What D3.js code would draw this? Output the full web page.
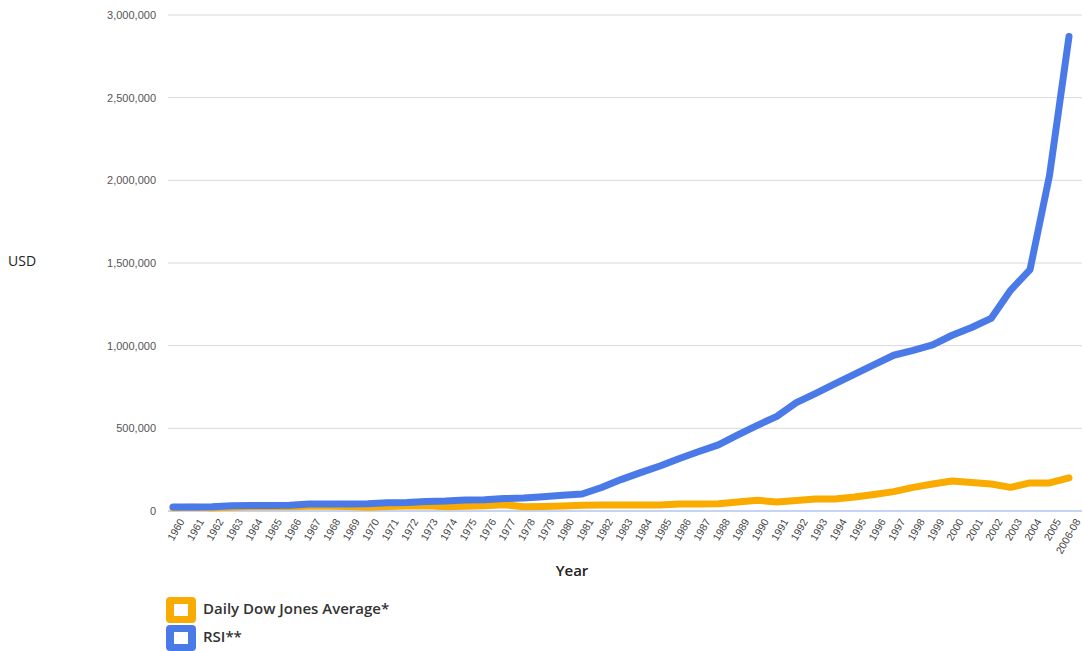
<!DOCTYPE html>
<html>
<head>
<meta charset="utf-8">
<script src="https://cdn.jsdelivr.net/npm/d3@7"></script>
<style>
  html, body { margin: 0; padding: 0; background: #fff; }
  svg { display: block; font-family: "Open Sans", "DejaVu Sans", sans-serif; }
</style>
</head>
<body>
<svg id="chart" width="1084" height="651"></svg>
<script>
// Years on the x axis
const years = [
  "1960","1961","1962","1963","1964","1965","1966","1967","1968","1969",
  "1970","1971","1972","1973","1974","1975","1976","1977","1978","1979",
  "1980","1981","1982","1983","1984","1985","1986","1987","1988","1989",
  "1990","1991","1992","1993","1994","1995","1996","1997","1998","1999",
  "2000","2001","2002","2003","2004","2005","2006-08"
];

// Daily Dow Jones Average* (USD)
const dowValues = [
  20000, 22000, 20000, 23000, 25000, 27000, 25000, 28000, 29000, 27000,
  22000, 27000, 30000, 32000, 25000, 28000, 32000, 38000, 26000, 27000,
  30000, 35000, 36000, 36000, 36000, 36000, 42000, 43000, 44000, 55000,
  65000, 55000, 63000, 72000, 73000, 85000, 100000, 117000, 143000, 163000,
  181000, 172000, 163000, 143000, 170000, 170000, 200000
];

// RSI** (USD)
const rsiValues = [
  24000, 24000, 25000, 32000, 33000, 33000, 35000, 42000, 42000, 43000,
  44000, 50000, 52000, 58000, 60000, 66000, 68000, 75000, 78000, 86000,
  95000, 103000, 142000, 190000, 232000, 272000, 318000, 360000, 400000, 460000,
  518000, 572000, 655000, 712000, 770000, 828000, 885000, 942000, 972000, 1005000,
  1063000, 1110000, 1165000, 1335000, 1460000, 2030000, 2870000
];

const yTicks = [0, 500000, 1000000, 1500000, 2000000, 2500000, 3000000];

const seriesNames = ["Daily Dow Jones Average*", "RSI**"];
const seriesColors = ["#f9ab00", "#4a7ae8"];

const svg = d3.select("#chart");

const plot = { left: 168, right: 1082, top: 15, bottom: 511 };

const x = d3.scalePoint()
  .domain(years)
  .range([173, 1069]);

const y = d3.scaleLinear()
  .domain([0, 3000000])
  .range([plot.bottom, plot.top]);

// Horizontal gridlines
svg.append("g")
  .selectAll("line")
  .data(yTicks.filter(d => d !== 0))
  .join("line")
  .attr("x1", plot.left)
  .attr("x2", plot.right)
  .attr("y1", d => y(d))
  .attr("y2", d => y(d))
  .attr("stroke", "#d9d9d9")
  .attr("stroke-width", 1);

// Baseline
svg.append("line")
  .attr("x1", plot.left)
  .attr("x2", plot.right)
  .attr("y1", y(0))
  .attr("y2", y(0))
  .attr("stroke", "#c5d3f6")
  .attr("stroke-width", 2);

// Y axis labels
const yAxis = d3.axisLeft(y)
  .tickValues(yTicks)
  .tickFormat(d3.format(","))
  .tickSize(0)
  .tickPadding(0);

const yg = svg.append("g")
  .attr("transform", "translate(156,0)")
  .call(yAxis);
yg.select(".domain").remove();
yg.selectAll("text")
  .attr("fill", "#555")
  .style("font-size", "11px")
  .attr("dy", "0.32em");

// X axis labels (rotated)
const xAxis = d3.axisBottom(x).tickSize(0).tickPadding(0);
const xg = svg.append("g")
  .attr("transform", `translate(0,${plot.bottom})`)
  .call(xAxis);
xg.select(".domain").remove();
xg.selectAll("text")
  .attr("fill", "#444")
  .style("font-size", "10.5px")
  .attr("text-anchor", "end")
  .attr("dy", null)
  .attr("y", 0)
  .attr("transform", "translate(9,9) rotate(-60)")
  .attr("dominant-baseline", "middle");

// Lines
const line = d3.line()
  .x((d, i) => x(years[i]))
  .y(d => y(d));

[dowValues, rsiValues].forEach((vals, k) => {
  svg.append("path")
    .datum(vals)
    .attr("fill", "none")
    .attr("stroke", seriesColors[k])
    .attr("stroke-width", 7)
    .attr("stroke-linejoin", "round")
    .attr("stroke-linecap", "round")
    .attr("d", line);
});

// Axis titles
svg.append("text")
  .attr("x", 8)
  .attr("y", 262)
  .attr("dominant-baseline", "middle")
  .attr("fill", "#222")
  .style("font-size", "14px")
  .text("USD");

svg.append("text")
  .attr("x", 572)
  .attr("y", 572)
  .attr("text-anchor", "middle")
  .attr("dominant-baseline", "middle")
  .attr("fill", "#222")
  .style("font-size", "15px")
  .style("font-weight", "600")
  .text("Year");

// Legend
const legend = svg.append("g");
seriesNames.forEach((name, i) => {
  const gy = 610 + i * 28;
  legend.append("rect")
    .attr("x", 166)
    .attr("y", gy - 13)
    .attr("width", 30)
    .attr("height", 26)
    .attr("rx", 4)
    .attr("fill", seriesColors[i]);
  legend.append("rect")
    .attr("x", 174)
    .attr("y", gy - 6)
    .attr("width", 14)
    .attr("height", 12)
    .attr("fill", "#fff");
  legend.append("text")
    .attr("x", 203)
    .attr("y", gy)
    .attr("dominant-baseline", "middle")
    .attr("fill", "#333")
    .style("font-size", "15px")
    .style("font-weight", "600")
    .text(name);
});
</script>
</body>
</html>
